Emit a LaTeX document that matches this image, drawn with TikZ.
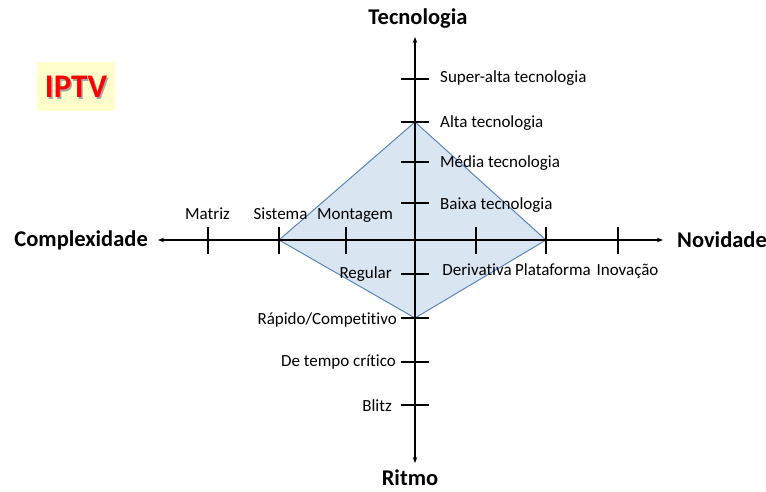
\documentclass[tikz,border=0pt]{standalone}
\usepackage{fontspec}
\setmainfont{Carlito}[Ligatures=NoCommon]
\usetikzlibrary{arrows.meta}
\definecolor{diafill}{HTML}{DAE5F2}
\definecolor{diadraw}{HTML}{5B86B8}
\definecolor{boxfill}{HTML}{FFFFCC}

\begin{document}
\begin{tikzpicture}[x=1pt,y=-1pt,
  axis/.style={line width=1.4pt,{Stealth[length=6pt,width=4.5pt]}-{Stealth[length=6pt,width=4.5pt]}},
  tick/.style={line width=1.3pt},
  lbl/.style={inner sep=0pt,yshift=-1.5pt,text height=11pt,text depth=3.5pt,font=\fontsize{17}{20}\selectfont},
  axlbl/.style={inner sep=0pt,yshift=-1.5pt,text height=14pt,text depth=4.5pt,font=\bfseries\fontsize{22.5}{26}\selectfont}]
\useasboundingbox (0,0) rectangle (766,492);

% Points
\coordinate (axl) at (158,240);
\coordinate (axr) at (663,240);
\coordinate (axt) at (415,37);
\coordinate (axb) at (415,463);
\coordinate (dtop) at (415,122);
\coordinate (dright) at (546,240);
\coordinate (dbot) at (415,318);
\coordinate (dleft) at (279,240);

% Diamond
\draw[fill=diafill,draw=diadraw,line width=1pt] (dtop) -- (dright) -- (dbot) -- (dleft) -- cycle;

% Axes
\draw[axis] (axl) -- (axr);
\draw[axis] (axb) -- (axt);

% Ticks
\foreach \x in {208,279,346,476,546,618}
  \draw[tick] (\x,227) -- (\x,254);
\foreach \y in {79,122,162,203,274,318,362,405}
  \draw[tick] (401,\y) -- (429,\y);

% Axis names
\node[axlbl] (tecnologia) at (418,18) {Tecnologia};
\node[axlbl] (ritmo) at (410,479) {Ritmo};
\node[axlbl,anchor=east] (complexidade) at (148,240) {Complexidade};
\node[axlbl,anchor=west] (novidade) at (677,241) {Novidade};

% Labels
\node[lbl] (matriz) at (207.5,214) {Matriz};
\node[lbl] (sistema) at (280.5,214) {Sistema};
\node[lbl] (montagem) at (355,214) {Montagem};
\node[lbl] (derivativa) at (477,270) {Derivativa};
\node[lbl] (plataforma) at (553,270) {Plataforma};
\node[lbl] (inovacao) at (627.5,270) {Inovação};
\node[lbl,anchor=west] (superalta) at (440,77) {Super-alta tecnologia};
\node[lbl,anchor=west] (alta) at (440,122) {Alta tecnologia};
\node[lbl,anchor=west] (media) at (440,162) {Média tecnologia};
\node[lbl,anchor=west] (baixa) at (440,204) {Baixa tecnologia};
\node[lbl,anchor=east] (regular) at (392,273) {Regular};
\node[lbl,anchor=east] (rapido) at (397,319) {Rápido/Competitivo};
\node[lbl,anchor=east] (critico) at (396,361) {De tempo crítico};
\node[lbl,anchor=east] (blitz) at (392,406) {Blitz};

% Title box
\fill[boxfill] (37,62) rectangle (115,111);
\node[text=black!35,font=\bfseries\fontsize{33}{36}\selectfont] at (77.5,88.5) {IPTV};
\node[text=red,font=\bfseries\fontsize{33}{36}\selectfont] (iptv) at (76,87) {IPTV};
\end{tikzpicture}
\end{document}
